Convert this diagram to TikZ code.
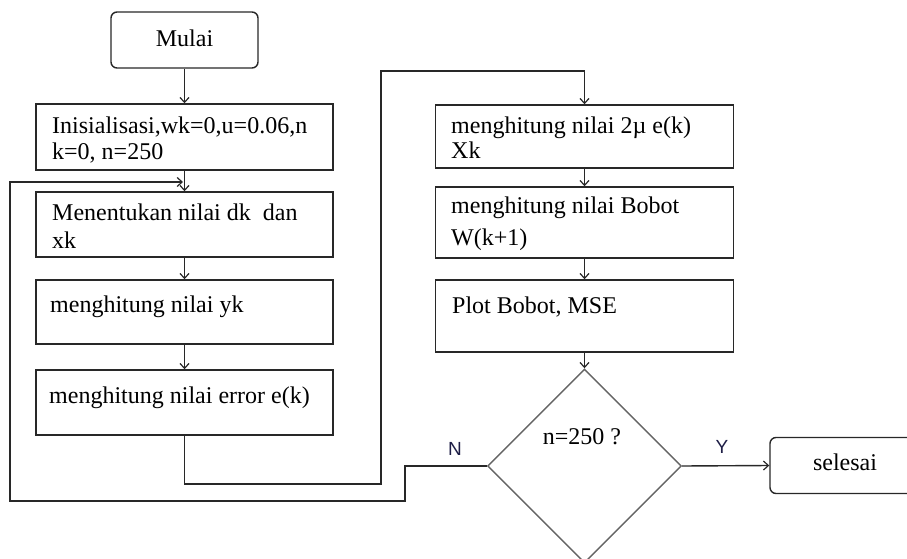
\documentclass[tikz,border=0pt]{standalone}
\usepackage{fontspec}
\setmainfont{Liberation Serif}
\newfontfamily\labelfont{Liberation Sans}
\usetikzlibrary{shapes.geometric,arrows.meta}
\definecolor{lineclr}{RGB}{40,40,40}
\definecolor{dgray}{RGB}{100,100,100}
\definecolor{lblclr}{RGB}{30,30,70}
\tikzset{
  box/.style={draw=lineclr, line width=1.4pt, inner sep=0pt, fill=white},
  rbox/.style={box, rounded corners=6pt},
  txt/.style={inner sep=0pt, anchor=base west, align=left, font=\fontsize{24}{26}\selectfont},
  ctxt/.style={inner sep=0pt, anchor=base, font=\fontsize{24}{26}\selectfont},
  lbl/.style={inner sep=0pt, font=\labelfont\fontsize{19}{21}\selectfont, text=lblclr},
  conn/.style={draw=lineclr, line width=1.4pt},
  arr/.style={conn, -{Straight Barb[length=5pt,width=9pt,line width=1.2pt]}},
}
\begin{document}
\begin{tikzpicture}[x=1pt, y=-1pt]
\useasboundingbox (0,0) rectangle (907,559);
% left column
\node[rbox, minimum width=147pt, minimum height=56pt] (mulai) at (184.5,40) {};
\node[ctxt] (tmulai) at (184.5,47) {Mulai};
\node[box, minimum width=297pt, minimum height=66pt] (init) at (184.5,137) {};
\node[txt] (tinit) at (52,159) {Inisialisasi,wk=0,u=0.06,n\\ k=0, n=250};
\node[box, minimum width=297pt, minimum height=65pt] (dx) at (184.5,224.5) {};
\node[txt] (tdx) at (52,248) {Menentukan nilai dk\ \ dan\\[2pt] xk};
\node[box, minimum width=297pt, minimum height=64pt] (yk) at (184.5,312) {};
\node[txt] (tyk) at (50,312) {menghitung nilai yk};
\node[box, minimum width=297pt, minimum height=65pt] (err) at (184.5,402.5) {};
\node[txt] (terr) at (49,403) {menghitung nilai error e(k)};
% right column
\node[box, minimum width=298pt, minimum height=63pt] (pmu) at (584.5,136.5) {};
\node[txt] (tpmu) at (451,158) {menghitung nilai 2µ e(k)\\[-1pt] Xk};
\node[box, minimum width=298pt, minimum height=71pt] (bobot) at (584.5,222.5) {};
\node[txt] (tbobot) at (451,245) {menghitung nilai Bobot\\[6pt] W(k+1)};
\node[box, minimum width=298pt, minimum height=72pt] (plot) at (584.5,316) {};
\node[txt] (tplot) at (452,313) {Plot Bobot, MSE};
\node[diamond, draw=dgray, line width=1.4pt, inner sep=0pt, aspect=1, minimum width=194pt, minimum height=194pt] (dec) at (584.5,466) {};
\node[ctxt] (tdec) at (582,444) {n=250 ?};
\node[rbox, minimum width=150pt, minimum height=56pt] (end) at (845,465.5) {};
\node[ctxt] (tend) at (845,470) {selesai};
\node[lbl] (lN) at (455,449) {N};
\node[lbl] (lY) at (722,447) {Y};
% coordinates
\coordinate (c1) at (381,484);
\coordinate (c2) at (381,71);
\coordinate (c3) at (405,466);
\coordinate (c4) at (10,501);
\coordinate (loopin) at (183,182);
% connectors
\draw[arr] (mulai) -- (init);
\draw[arr] (init) -- (dx);
\draw[arr] (dx) -- (yk);
\draw[arr] (yk) -- (err);
\draw[arr] (err.south) |- (c1) -- (c2) -| (pmu.north);
\draw[arr] (pmu) -- (bobot);
\draw[arr] (bobot) -- (plot);
\draw[arr] (plot) -- (dec);
\draw[arr] (dec.east) -- (end.west);
\draw[arr] (dec.west) -- (c3) |- (c4) |- (loopin);
\end{tikzpicture}
\end{document}
